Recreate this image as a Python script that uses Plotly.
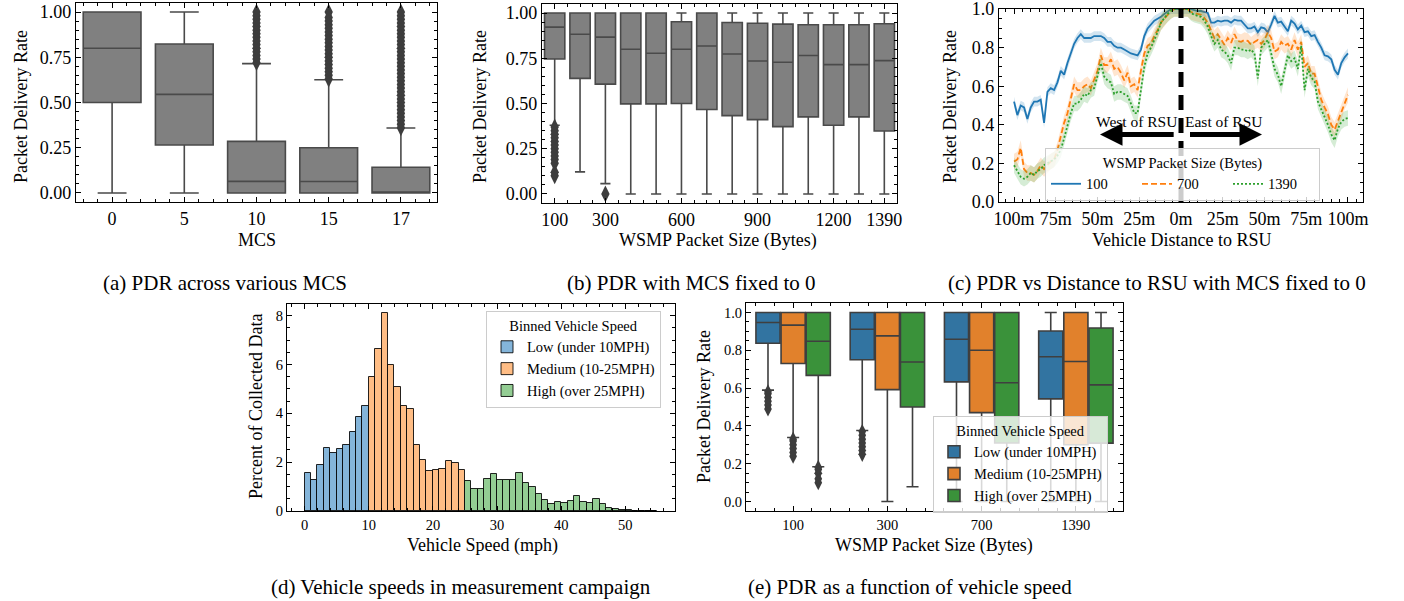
import plotly.graph_objects as go

W, H = 1404, 601
FONT = "Liberation Serif, Times New Roman, serif"

# ---------------- data: (a) PDR across MCS ----------------
mcs_labels = ["0", "5", "10", "15", "17"]
a_q1 = [0.50, 0.265, 0.0, 0.0, 0.0]
a_med = [0.80, 0.545, 0.064, 0.063, 0.0]
a_q3 = [1.0, 0.823, 0.285, 0.25, 0.142]
a_lo = [0.0, 0.0, 0.0, 0.0, 0.0]
a_hi = [1.0, 1.0, 0.715, 0.626, 0.359]
a_fliers_mcs10 = [0.72, 0.74, 0.76, 0.78, 0.80, 0.82, 0.84, 0.86, 0.88, 0.90, 0.92, 0.94, 0.96, 0.98, 1.00]
a_fliers_mcs15 = [0.63, 0.65, 0.67, 0.69, 0.71, 0.73, 0.75, 0.77, 0.79, 0.81, 0.83, 0.85, 0.87, 0.89,
                  0.91, 0.93, 0.95, 0.97, 1.00]
a_fliers_mcs17 = [0.36, 0.38, 0.40, 0.42, 0.44, 0.46, 0.48, 0.50, 0.52, 0.54, 0.56, 0.58, 0.60, 0.62,
                  0.64, 0.66, 0.68, 0.70, 0.72, 0.74, 0.76, 0.78, 0.80, 0.82, 0.84, 0.86, 0.88, 0.90,
                  0.92, 0.94, 0.96, 0.98, 1.00]

# ---------------- data: (b) PDR vs packet size ----------------
size_labels = ["100", "200", "300", "400", "500", "600", "700", "800", "900", "1000", "1100", "1200", "1300", "1390"]
size_ticklabels = ["100", "300", "600", "900", "1200", "1390"]
b_q1 = [0.746, 0.639, 0.607, 0.498, 0.498, 0.50, 0.467, 0.433, 0.411, 0.372, 0.426, 0.380, 0.426, 0.348]
b_med = [0.922, 0.883, 0.867, 0.80, 0.778, 0.80, 0.818, 0.774, 0.735, 0.728, 0.765, 0.715, 0.715, 0.737]
b_q3 = [1.0, 1.0, 1.0, 1.0, 1.0, 0.952, 1.0, 0.948, 0.944, 0.939, 0.935, 0.935, 0.935, 0.941]
b_lo = [0.38, 0.122, 0.057, 0.0, 0.0, 0.0, 0.0, 0.0, 0.0, 0.0, 0.0, 0.0, 0.0, 0.0]
b_hi = [1.0] * 14
b_fliers_100 = [0.10, 0.12, 0.17, 0.19, 0.21, 0.23, 0.25, 0.27, 0.29, 0.31, 0.33, 0.35, 0.37]
b_fliers_300 = [0.0]

# ---------------- data: (c) PDR vs distance ----------------
distance_m = [-100, -98, -96, -94, -92, -90, -88, -86, -84, -82, -80, -78, -76, -74, -72, -70, -68, -66,
              -64, -62, -60, -58, -56, -54, -52, -50, -48, -46, -44, -42, -40, -38, -36, -34, -32, -30,
              -28, -26, -24, -22, -20, -18, -16, -14, -12, -10, -8, -6, -4, -2, 0, 2, 4, 6, 8, 10, 12,
              14, 16, 18, 20, 22, 24, 26, 28, 30, 32, 34, 36, 38, 40, 42, 44, 46, 48, 50, 52, 54, 56,
              58, 60, 62, 64, 66, 68, 70, 72, 74, 76, 78, 80, 82, 84, 86, 88, 90, 92, 94, 96, 98, 100]
dist_tickvals = [-100, -75, -50, -25, 0, 25, 50, 75, 100]
dist_ticktext = ["100m", "75m", "50m", "25m", "0m", "25m", "50m", "75m", "100m"]
pdr_100 = [0.52, 0.45, 0.50, 0.49, 0.43, 0.49, 0.52, 0.52, 0.53, 0.41, 0.57, 0.59, 0.58, 0.62, 0.68,
           0.66, 0.72, 0.77, 0.82, 0.85, 0.87, 0.85, 0.85, 0.85, 0.86, 0.86, 0.86, 0.85, 0.83, 0.83,
           0.81, 0.80, 0.80, 0.79, 0.78, 0.77, 0.765, 0.76, 0.79, 0.86, 0.90, 0.92, 0.94, 0.95, 0.96,
           0.975, 0.99, 1.0, 1.0, 1.0, 1.0, 1.0, 1.0, 1.0, 0.995, 0.99, 0.99, 0.985, 0.98, 0.93, 0.93,
           0.94, 0.935, 0.94, 0.94, 0.93, 0.945, 0.94, 0.94, 0.92, 0.90, 0.90, 0.91, 0.88, 0.905, 0.90,
           0.88, 0.92, 0.965, 0.93, 0.935, 0.91, 0.885, 0.94, 0.925, 0.895, 0.915, 0.88, 0.885, 0.86,
           0.865, 0.83, 0.80, 0.76, 0.755, 0.74, 0.685, 0.66, 0.72, 0.75, 0.77]
pdr_700 = [0.21, 0.22, 0.28, 0.17, 0.15, 0.15, 0.14, 0.16, 0.19, 0.17, 0.19, 0.21, 0.22, 0.27, 0.34,
           0.41, 0.46, 0.53, 0.61, 0.58, 0.58, 0.60, 0.61, 0.59, 0.64, 0.68, 0.76, 0.71, 0.71, 0.74,
           0.69, 0.70, 0.67, 0.63, 0.67, 0.60, 0.61, 0.58, 0.68, 0.77, 0.81, 0.82, 0.86, 0.89, 0.93,
           0.95, 0.975, 0.99, 1.0, 1.0, 1.0, 1.0, 1.0, 0.985, 0.98, 0.975, 0.97, 0.955, 0.93, 0.89,
           0.85, 0.87, 0.84, 0.815, 0.85, 0.825, 0.87, 0.835, 0.83, 0.84, 0.835, 0.815, 0.83, 0.84,
           0.82, 0.84, 0.88, 0.85, 0.78, 0.79, 0.83, 0.81, 0.82, 0.79, 0.84, 0.79, 0.83, 0.70, 0.72,
           0.665, 0.665, 0.59, 0.53, 0.49, 0.455, 0.40, 0.375, 0.42, 0.465, 0.52, 0.555]
pdr_1390 = [0.19, 0.16, 0.13, 0.12, 0.13, 0.15, 0.14, 0.16, 0.17, 0.19, 0.20, 0.21, 0.22, 0.24, 0.27,
            0.33, 0.40, 0.46, 0.51, 0.51, 0.53, 0.56, 0.55, 0.58, 0.59, 0.66, 0.72, 0.65, 0.63, 0.62,
            0.56, 0.57, 0.57, 0.56, 0.55, 0.51, 0.46, 0.46, 0.58, 0.70, 0.77, 0.80, 0.84, 0.88, 0.93,
            0.955, 0.975, 0.99, 1.0, 1.0, 1.0, 1.0, 1.0, 0.98, 0.97, 0.965, 0.96, 0.94, 0.91, 0.86,
            0.82, 0.84, 0.79, 0.78, 0.76, 0.72, 0.80, 0.80, 0.79, 0.79, 0.78, 0.79, 0.77, 0.64, 0.80,
            0.82, 0.84, 0.77, 0.69, 0.66, 0.60, 0.68, 0.76, 0.73, 0.745, 0.69, 0.81, 0.58, 0.69, 0.645,
            0.625, 0.52, 0.48, 0.44, 0.40, 0.35, 0.32, 0.38, 0.415, 0.43, 0.435]
# estimated half-width of the shaded confidence band for each packet size
ci_half = {"100": 0.025, "700": 0.04, "1390": 0.04}

# ---------------- data: (d) speed histogram (percent per 1 mph bin) ----------------
speed_low_bins = [0, 1, 2, 3, 4, 5, 6, 7, 8, 9]
speed_low_pct = [1.57, 1.26, 1.90, 2.59, 2.38, 2.56, 2.72, 3.24, 3.86, 4.31]
speed_med_bins = [10, 11, 12, 13, 14, 15, 16, 17, 18, 19, 20, 21, 22, 23, 24]
speed_med_pct = [5.50, 6.63, 8.10, 6.00, 5.10, 4.31, 4.16, 2.72, 2.09, 1.64, 1.67, 1.74, 2.05, 1.98, 1.70]
speed_high_bins = [25, 26, 27, 28, 29, 30, 31, 32, 33, 34, 35, 36, 37, 38, 39, 40, 41, 42, 43, 44, 45,
                   46, 47, 48, 49, 50, 51, 52, 53, 54]
speed_high_pct = [1.24, 0.92, 0.89, 1.31, 1.50, 1.29, 1.27, 1.29, 1.55, 1.16, 0.98, 0.70, 0.47, 0.30,
                  0.38, 0.34, 0.42, 0.60, 0.38, 0.31, 0.48, 0.29, 0.14, 0.08, 0.05, 0.04, 0.02, 0.02,
                  0.01, 0.01]

# ---------------- data: (e) PDR by speed class ----------------
e_sizes = ["100", "300", "700", "1390"]
speed_classes = ["Low (under 10MPH)", "Medium (10-25MPH)", "High (over 25MPH)"]
e_q1 = [[0.837, 0.75, 0.633, 0.543], [0.73, 0.592, 0.47, 0.30], [0.667, 0.50, 0.31, 0.309]]
e_med = [[0.947, 0.911, 0.858, 0.766], [0.933, 0.876, 0.80, 0.741], [0.848, 0.738, 0.628, 0.617]]
e_q3 = [[1.0, 1.0, 1.0, 0.902], [1.0, 1.0, 1.0, 1.0], [1.0, 1.0, 1.0, 0.918]]
e_lo = [[0.589, 0.376, 0.0, 0.0], [0.339, 0.0, 0.0, 0.0], [0.184, 0.078, 0.0, 0.0]]
e_hi = [[1.0, 1.0, 1.0, 1.0], [1.0, 1.0, 1.0, 1.0], [1.0, 1.0, 1.0, 1.0]]
e_fliers = {  # (speed class index, packet size index): outlier values
    (0, 0): [0.49, 0.51, 0.53, 0.55, 0.57, 0.58],
    (1, 0): [0.24, 0.26, 0.28, 0.30, 0.32, 0.33],
    (2, 0): [0.10, 0.12, 0.15, 0.17, 0.18],
    (0, 1): [0.25, 0.27, 0.29, 0.31, 0.33, 0.35, 0.37],
}

# ---------------- styling ----------------
C_BLUE, C_ORANGE, C_GREEN = "#1f77b4", "#ff7f0e", "#2ca02c"
E_COLORS = ["#3274a1", "#e1812c", "#3a923a"]
HIST_COLORS = ["#84b5da", "#ffbd85", "#93cd93"]
BOX_GRAY, BOX_EDGE, FLIER = "#808080", "#4a4a4a", "#3d3d3d"
BOX_W = 0.8            # width of a single box (category units)
GROUP_W = 0.8          # width of a hue group in (e)
TICK_BIG, TICK_SMALL, TITLE_SIZE, CAPTION_SIZE, LEG_SIZE = 18, 14.5, 18, 21, 14.5


def px_dom_x(a, b):
    return [a / W, b / W]


def px_dom_y(top, bottom):
    return [1 - bottom / H, 1 - top / H]


fig = go.Figure()

# (a)
fig.add_trace(go.Box(x=list(range(len(mcs_labels))), q1=a_q1, median=a_med, q3=a_q3,
                     lowerfence=a_lo, upperfence=a_hi, fillcolor=BOX_GRAY, width=BOX_W,
                     line=dict(color=BOX_EDGE, width=1.6), whiskerwidth=0.5, boxpoints=False,
                     xaxis="x", yaxis="y", showlegend=False, hoverinfo="skip"))
for lab, vals in (("10", a_fliers_mcs10), ("15", a_fliers_mcs15), ("17", a_fliers_mcs17)):
    fig.add_trace(go.Scatter(x=[mcs_labels.index(lab)] * len(vals), y=vals, mode="markers",
                             marker=dict(symbol="diamond-tall", size=12, color=FLIER),
                             xaxis="x", yaxis="y", showlegend=False, hoverinfo="skip"))

# (b)
fig.add_trace(go.Box(x=list(range(len(size_labels))), q1=b_q1, median=b_med, q3=b_q3,
                     lowerfence=b_lo, upperfence=b_hi, fillcolor=BOX_GRAY, width=BOX_W,
                     line=dict(color=BOX_EDGE, width=1.6), whiskerwidth=0.5, boxpoints=False,
                     xaxis="x2", yaxis="y2", showlegend=False, hoverinfo="skip"))
for lab, vals in (("100", b_fliers_100), ("300", b_fliers_300)):
    fig.add_trace(go.Scatter(x=[size_labels.index(lab)] * len(vals), y=vals, mode="markers",
                             marker=dict(symbol="diamond-tall", size=12, color=FLIER),
                             xaxis="x2", yaxis="y2", showlegend=False, hoverinfo="skip"))


# (c)
def rgba(hexc, a):
    h = hexc.lstrip("#")
    return "rgba(%d,%d,%d,%.2f)" % (int(h[0:2], 16), int(h[2:4], 16), int(h[4:6], 16), a)


for name, vals, col, dash in (("100", pdr_100, C_BLUE, "solid"),
                              ("700", pdr_700, C_ORANGE, "6px,3px"),
                              ("1390", pdr_1390, C_GREEN, "2px,2px")):
    hw = ci_half[name]
    upper = [min(v + hw, 1.0) for v in vals]
    lower = [v - hw for v in vals]
    fig.add_trace(go.Scatter(x=distance_m + distance_m[::-1], y=upper + lower[::-1],
                             fill="toself", fillcolor=rgba(col, 0.2), line=dict(width=0),
                             xaxis="x3", yaxis="y3", showlegend=False, hoverinfo="skip"))
    fig.add_trace(go.Scatter(x=distance_m, y=vals, mode="lines", name=name,
                             line=dict(color=col, width=1.8, dash=dash),
                             xaxis="x3", yaxis="y3", legend="legend", hoverinfo="skip"))

# (d)
for name, bins, pct, col in ((speed_classes[0], speed_low_bins, speed_low_pct, HIST_COLORS[0]),
                             (speed_classes[1], speed_med_bins, speed_med_pct, HIST_COLORS[1]),
                             (speed_classes[2], speed_high_bins, speed_high_pct, HIST_COLORS[2])):
    fig.add_trace(go.Bar(x=bins, y=pct, width=1, offset=0, name=name,
                         marker=dict(color=col, line=dict(color="rgba(0,0,0,0.85)", width=1)),
                         xaxis="x4", yaxis="y4", legend="legend2", hoverinfo="skip"))

# (e)
n_cls = len(speed_classes)
sub_w = GROUP_W / n_cls
for j, name in enumerate(speed_classes):
    off = (j - (n_cls - 1) / 2) * sub_w
    fig.add_trace(go.Box(x=[k + off for k in range(len(e_sizes))], q1=e_q1[j], median=e_med[j],
                         q3=e_q3[j], lowerfence=e_lo[j], upperfence=e_hi[j], name=name,
                         fillcolor=E_COLORS[j], width=sub_w * 0.96,
                         line=dict(color="#3f3f3f", width=1.6), whiskerwidth=0.5, boxpoints=False,
                         xaxis="x5", yaxis="y5", legend="legend3", hoverinfo="skip"))
for (j, k), vals in e_fliers.items():
    pos = k + (j - (n_cls - 1) / 2) * sub_w
    fig.add_trace(go.Scatter(x=[pos] * len(vals), y=vals, mode="markers",
                             marker=dict(symbol="diamond-tall", size=11, color=FLIER),
                             xaxis="x5", yaxis="y5", showlegend=False, hoverinfo="skip"))


# ---------------- axes ----------------
def axis(domain, rng, tickvals=None, ticktext=None, dtick=None, tick0=None, minor_dtick=None,
         minor_tick0=0, fsize=TICK_BIG, anchor=None):
    d = dict(domain=domain, range=rng, showgrid=False, zeroline=False, showline=True,
             linecolor="black", linewidth=1.2, mirror="allticks", ticks="inside", ticklen=5,
             tickwidth=1, tickcolor="black", tickfont=dict(family=FONT, size=fsize, color="black"),
             anchor=anchor, fixedrange=True, automargin=False, ticklabeloverflow="allow")
    if tickvals is not None:
        d.update(tickmode="array", tickvals=tickvals, ticktext=ticktext)
    else:
        d.update(tickmode="linear", dtick=dtick, tick0=tick0)
    if minor_dtick is not None:
        d["minor"] = dict(ticks="inside", ticklen=2.5, tickwidth=1, tickcolor="black",
                          tickmode="linear", dtick=minor_dtick, tick0=minor_tick0, showgrid=False)
    return d


size_tick_idx = [size_labels.index(s) for s in size_ticklabels]

fig.update_layout(
    xaxis=axis(px_dom_x(76, 437), [-0.5, 4.5], list(range(len(mcs_labels))), mcs_labels,
               minor_dtick=0.2, anchor="y"),
    yaxis=axis(px_dom_y(3, 202), [-0.05, 1.05], [0, 0.25, 0.5, 0.75, 1.0],
               ["0.00", "0.25", "0.50", "0.75", "1.00"], minor_dtick=0.05, anchor="x"),
    xaxis2=axis(px_dom_x(542, 897), [-0.5, 13.5], size_tick_idx, size_ticklabels,
                minor_dtick=0.5, anchor="y2"),
    yaxis2=axis(px_dom_y(4, 203), [-0.05, 1.05], [0, 0.25, 0.5, 0.75, 1.0],
                ["0.00", "0.25", "0.50", "0.75", "1.00"], minor_dtick=0.05, anchor="x2"),
    xaxis3=axis(px_dom_x(999, 1363), [-109, 109], dist_tickvals, dist_ticktext,
                minor_dtick=5, anchor="y3"),
    yaxis3=axis(px_dom_y(9, 202), [-0.0005, 1.0005], [0, 0.2, 0.4, 0.6, 0.8, 1.0],
                ["0.0", "0.2", "0.4", "0.6", "0.8", "1.0"], minor_dtick=0.05, anchor="x3"),
    xaxis4=axis(px_dom_x(287, 675), [-2.75, 57.75], dtick=10, tick0=0, minor_dtick=2,
                fsize=TICK_SMALL, anchor="y4"),
    yaxis4=axis(px_dom_y(304, 511), [0, 8.48], dtick=2, tick0=0, minor_dtick=0.5,
                fsize=TICK_SMALL, anchor="x4"),
    xaxis5=axis(px_dom_x(746, 1123), [-0.5, 3.5], list(range(len(e_sizes))), e_sizes,
                minor_dtick=0.2, fsize=TICK_SMALL, anchor="y5"),
    yaxis5=axis(px_dom_y(303, 511), [-0.05, 1.05], [0, 0.2, 0.4, 0.6, 0.8, 1.0],
                ["0.0", "0.2", "0.4", "0.6", "0.8", "1.0"], minor_dtick=0.05, fsize=TICK_SMALL,
                anchor="x5"),
)

# ---------------- legends ----------------
leg_common = dict(bgcolor="rgba(255,255,255,0.8)", bordercolor="#cccccc", borderwidth=1,
                  font=dict(family=FONT, size=LEG_SIZE, color="black"), yanchor="top")
fig.update_layout(
    legend=dict(**leg_common, x=1045 / W, y=1 - 148 / H, xanchor="left", orientation="h",
                title=dict(text="WSMP Packet Size (Bytes)", side="top center",
                           font=dict(family=FONT, size=LEG_SIZE)),
                entrywidth=46, entrywidthmode="pixels", itemwidth=30, tracegroupgap=0),
    legend2=dict(**leg_common, x=486 / W, y=1 - 311 / H, xanchor="left",
                 title=dict(text="Binned Vehicle Speed", side="top center",
                            font=dict(family=FONT, size=LEG_SIZE)), tracegroupgap=2),
    legend3=dict(**leg_common, x=933 / W, y=1 - 416 / H, xanchor="left",
                 title=dict(text="Binned Vehicle Speed", side="top center",
                            font=dict(family=FONT, size=LEG_SIZE)), tracegroupgap=2),
)

# ---------------- shapes & annotations ----------------
shapes = [dict(type="line", xref="x3", yref="y3", x0=0, x1=0, y0=0, y1=1,
               line=dict(color="black", width=5, dash="15px,8px"))]

ann = []
# arrows in (c)
ann.append(dict(xref="x3", yref="y3", axref="x3", ayref="y3", x=-48.5, y=0.35, ax=-3.5, ay=0.35,
                text="", showarrow=True, arrowhead=2, arrowsize=0.9, arrowwidth=5,
                arrowcolor="black", standoff=0, startstandoff=0))
ann.append(dict(xref="x3", yref="y3", axref="x3", ayref="y3", x=48.5, y=0.35, ax=4.5, ay=0.35,
                text="", showarrow=True, arrowhead=2, arrowsize=0.9, arrowwidth=5,
                arrowcolor="black", standoff=0, startstandoff=0))
ann.append(dict(xref="x3", yref="y3", x=-1.0, y=0.415, text="West of RSU", showarrow=False,
                xanchor="right", font=dict(family=FONT, size=15.5, color="black")))
ann.append(dict(xref="x3", yref="y3", x=1.0, y=0.415, text="East of RSU", showarrow=False,
                xanchor="left", font=dict(family=FONT, size=15.5, color="black")))


def ptxt(x, y, text, size=TITLE_SIZE, angle=0):
    return dict(xref="paper", yref="paper", x=x / W, y=1 - y / H, text=text, showarrow=False,
                xanchor="center", yanchor="middle", textangle=angle,
                font=dict(family=FONT, size=size, color="black"))


# axis titles
ann += [
    ptxt(21, 107, "Packet Delivery Rate", angle=-90), ptxt(257, 240, "MCS"),
    ptxt(480, 107, "Packet Delivery Rate", angle=-90), ptxt(718, 240, "WSMP Packet Size (Bytes)"),
    ptxt(950, 107, "Packet Delivery Rate", angle=-90), ptxt(1181, 240, "Vehicle Distance to RSU"),
    ptxt(256, 407, "Percent of Collected Data", angle=-90), ptxt(482, 545, "Vehicle Speed (mph)"),
    ptxt(704, 407, "Packet Delivery Rate", angle=-90), ptxt(934, 545, "WSMP Packet Size (Bytes)"),
]
# captions
ann += [
    ptxt(225, 283, "(a) PDR across various MCS", size=CAPTION_SIZE),
    ptxt(691, 283, "(b) PDR with MCS fixed to 0", size=CAPTION_SIZE),
    ptxt(1157, 283, "(c) PDR vs Distance to RSU with MCS fixed to 0", size=CAPTION_SIZE),
    ptxt(461, 587, "(d) Vehicle speeds in measurement campaign", size=CAPTION_SIZE),
    ptxt(910, 587, "(e) PDR as a function of vehicle speed", size=CAPTION_SIZE),
]

fig.update_layout(
    width=W, height=H, margin=dict(l=0, r=0, t=0, b=0, autoexpand=False),
    paper_bgcolor="white", plot_bgcolor="white",
    boxmode="overlay", bargap=0,
    shapes=shapes, annotations=ann,
    font=dict(family=FONT, color="black"),
)

# remove the browser's default page margin so the figure starts at the window's corner
fig.write_html("out.html", config={"displayModeBar": False},
               post_script="document.body.style.margin='0px';document.body.style.overflow='hidden';")
